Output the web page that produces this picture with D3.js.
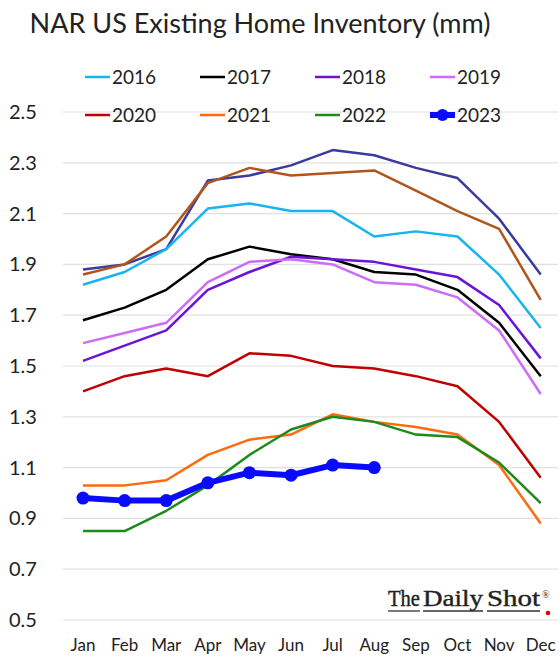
<!DOCTYPE html>
<html>
<head>
    <script src="https://d3js.org/d3.v7.min.js"></script>
    <style>
        body { margin: 0; background: #fff; }
        text { font-family: Lato, "Open Sans", sans-serif; fill: #222; }
    </style>
</head>
<body>
<svg width="560" height="658"></svg>
<script>
// data
var months = ["Jan","Feb","Mar","Apr","May","Jun","Jul","Aug","Sep","Oct","Nov","Dec"];
var yTicks = [0.5,0.7,0.9,1.1,1.3,1.5,1.7,1.9,2.1,2.3,2.5];

// two older years drawn but not in the legend
var y2014 = [1.88,1.90,1.96,2.23,2.25,2.29,2.35,2.33,2.28,2.24,2.08,1.86];
var y2015 = [1.86,1.90,2.01,2.22,2.28,2.25,2.26,2.27,2.19,2.11,2.04,1.76];
var y2016 = [1.82,1.87,1.96,2.12,2.14,2.11,2.11,2.01,2.03,2.01,1.86,1.65];
var y2017 = [1.68,1.73,1.80,1.92,1.97,1.94,1.92,1.87,1.86,1.80,1.67,1.46];
var y2018 = [1.52,1.58,1.64,1.80,1.87,1.93,1.92,1.91,1.88,1.85,1.74,1.53];
var y2019 = [1.59,1.63,1.67,1.83,1.91,1.92,1.90,1.83,1.82,1.77,1.64,1.39];
var y2020 = [1.40,1.46,1.49,1.46,1.55,1.54,1.50,1.49,1.46,1.42,1.28,1.06];
var y2021 = [1.03,1.03,1.05,1.15,1.21,1.23,1.31,1.28,1.26,1.23,1.11,0.88];
var y2022 = [0.85,0.85,0.93,1.03,1.15,1.25,1.30,1.28,1.23,1.22,1.12,0.96];
var y2023 = [0.98,0.97,0.97,1.04,1.08,1.07,1.11,1.10];

var series = [
    {name:"2014", values:y2014, color:"#3b3b9e", legend:false},
    {name:"2015", values:y2015, color:"#b0561c", legend:false},
    {name:"2016", values:y2016, color:"#18b4f0", legend:true},
    {name:"2017", values:y2017, color:"#000000", legend:true},
    {name:"2018", values:y2018, color:"#6a14d6", legend:true},
    {name:"2019", values:y2019, color:"#cc6cf8", legend:true},
    {name:"2020", values:y2020, color:"#c00000", legend:true},
    {name:"2021", values:y2021, color:"#ff6a10", legend:true},
    {name:"2022", values:y2022, color:"#1d8a1d", legend:true},
    {name:"2023", values:y2023, color:"#0a0aff", legend:true, thick:true}
];

var svg = d3.select("svg");

var x = d3.scalePoint().domain(months).range([83, 540.7]);
var y = d3.scaleLinear().domain([0.5, 2.5]).range([620, 112]);

// title
svg.append("text").attr("x", 260).attr("y", 33)
    .attr("text-anchor", "middle").style("font-size", "27px")
    .text("NAR US Existing Home Inventory (mm)");

// gridlines
svg.append("g").selectAll("line").data(yTicks).join("line")
    .attr("x1", 63).attr("x2", 558)
    .attr("y1", function(d){return y(d);}).attr("y2", function(d){return y(d);})
    .attr("stroke", "#e0e0e0").attr("stroke-width", 1.2);

// y labels
svg.append("g").selectAll("text").data(yTicks).join("text")
    .attr("x", 9).attr("y", function(d){return y(d) + 7;})
    .style("font-size", "20px")
    .text(function(d){return d.toFixed(1);});

// x labels
svg.append("g").selectAll("text").data(months).join("text")
    .attr("x", function(d){return x(d);}).attr("y", 651)
    .attr("text-anchor", "middle").style("font-size", "17px")
    .text(function(d){return d;});

// lines
var line = d3.line()
    .x(function(d, i){return x(months[i]);})
    .y(function(d){return y(d);});

svg.append("g").selectAll("path").data(series).join("path")
    .attr("d", function(d){return line(d.values);})
    .attr("fill", "none")
    .attr("stroke", function(d){return d.color;})
    .attr("stroke-width", function(d){return d.thick ? 6 : 2.5;})
    .attr("stroke-linejoin", "round");

// markers for 2023
var s23 = series[series.length - 1];
svg.append("g").selectAll("circle").data(s23.values).join("circle")
    .attr("cx", function(d, i){return x(months[i]);})
    .attr("cy", function(d){return y(d);})
    .attr("r", 6.5).attr("fill", s23.color);

// legend
var legendItems = series.filter(function(d){return d.legend;});
var leg = svg.append("g").selectAll("g").data(legendItems).join("g")
    .attr("transform", function(d, i){
        return "translate(" + (85 + (i % 4) * 115) + "," + (77 + Math.floor(i / 4) * 38) + ")";
    });
leg.append("line").attr("x1", 0).attr("x2", 25)
    .attr("stroke", function(d){return d.color;})
    .attr("stroke-width", function(d){return d.thick ? 6 : 2.5;});
leg.filter(function(d){return d.thick;}).append("circle")
    .attr("cx", 12.5).attr("r", 6).attr("fill", function(d){return d.color;});
leg.append("text").attr("x", 27).attr("y", 6.5)
    .style("font-size", "19px")
    .text(function(d){return d.name;});

// watermark
var logo = svg.append("g").attr("transform", "translate(388,606)");
var words = [["The", 0, 32], ["Daily", 35, 60], ["Shot", 99, 53]];
logo.selectAll("text").data(words).join("text")
    .attr("x", function(d){return d[1];})
    .attr("textLength", function(d){return d[2];})
    .attr("lengthAdjust", "spacingAndGlyphs")
    .style("font-family", "'Liberation Serif', serif")
    .style("font-size", "23px").style("fill", "#222")
    .style("stroke", "#222").style("stroke-width", 0.4)
    .text(function(d){return d[0];});
logo.selectAll("line").data(words).join("line")
    .attr("x1", function(d){return d[1];})
    .attr("x2", function(d){return d[1] + d[2];})
    .attr("y1", 5).attr("y2", 5)
    .attr("stroke", "#333").attr("stroke-width", 1.3);
logo.append("text").attr("x", 154).attr("y", -8)
    .style("font-family", "'Liberation Serif', serif")
    .style("font-size", "10px").text("®");
logo.append("circle").attr("cx", 160).attr("cy", 7).attr("r", 2.3).attr("fill", "#d00");
</script>
</body>
</html>
